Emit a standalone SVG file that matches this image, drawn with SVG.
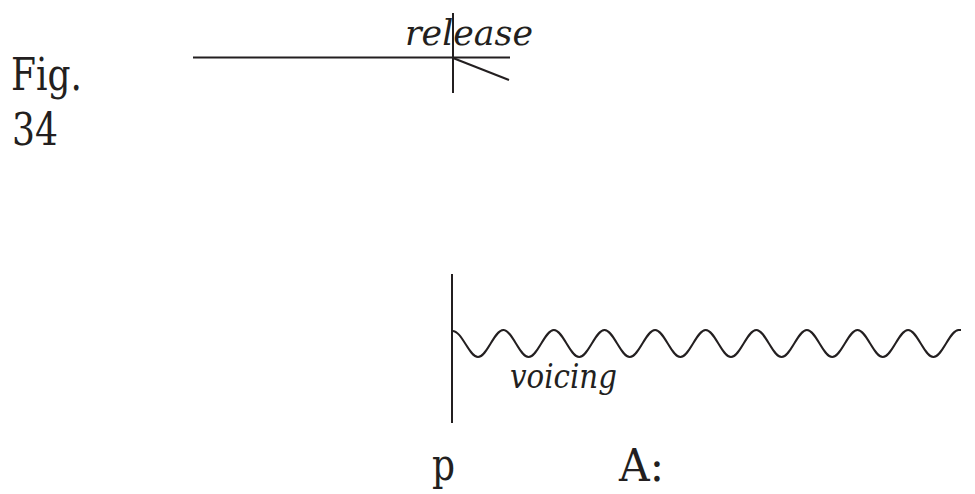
<svg xmlns="http://www.w3.org/2000/svg" width="975" height="494" viewBox="0 0 975 494">
<style>
.ln{stroke:#231f20;stroke-width:2;fill:none}
.t{font-family:"DejaVu Serif","Liberation Serif",serif;fill:#231f20}
.i{font-style:italic}
</style>
<rect width="975" height="494" fill="#fff"/>
<g id="label-fig">
<text class="t" x="11" y="90" font-size="44" textLength="71" lengthAdjust="spacingAndGlyphs">Fig.</text>
<text class="t" x="12" y="145" font-size="44" textLength="46" lengthAdjust="spacingAndGlyphs">34</text>
</g>
<g id="connectors">
<line class="ln" x1="193" y1="57.5" x2="510" y2="57.5"/>
<line class="ln" x1="453" y1="13" x2="453" y2="93"/>
<line class="ln" x1="453" y1="58" x2="509" y2="80"/>
<line class="ln" x1="452" y1="274" x2="452" y2="423"/>
<path class="ln" d="M452,331 C461.8,330 468.9,357 478,357 S494.2,330 503.3,330 S519.5,357 528.6,357 S544.8,330 553.9,330 S570.1,357 579.2,357 S595.4,330 604.5,330 S620.7,357 629.8,357 S646,330 655.1,330 S671.3,357 680.4,357 S696.6,330 705.7,330 S721.9,357 731,357 S747.2,330 756.3,330 S772.5,357 781.6,357 S797.8,330 806.9,330 S823.1,357 832.2,357 S848.4,330 857.5,330 S873.7,357 882.8,357 S899,330 908.1,330 S924.3,357 933.4,357 S949.6,330 958.7,330 L961,330"/>
</g>
<g id="release">
<text class="t i" x="405" y="45" font-size="36" textLength="128" lengthAdjust="spacingAndGlyphs">release</text>
</g>
<g id="voicing">
<text class="t i" x="510" y="388" font-size="34" textLength="107" lengthAdjust="spacingAndGlyphs">voicing</text>
</g>
<g id="p">
<text class="t" x="432" y="480" font-size="44" textLength="23" lengthAdjust="spacingAndGlyphs">p</text>
</g>
<g id="A">
<text class="t" x="619" y="481" font-size="44" textLength="45" lengthAdjust="spacingAndGlyphs">A:</text>
</g>
</svg>
